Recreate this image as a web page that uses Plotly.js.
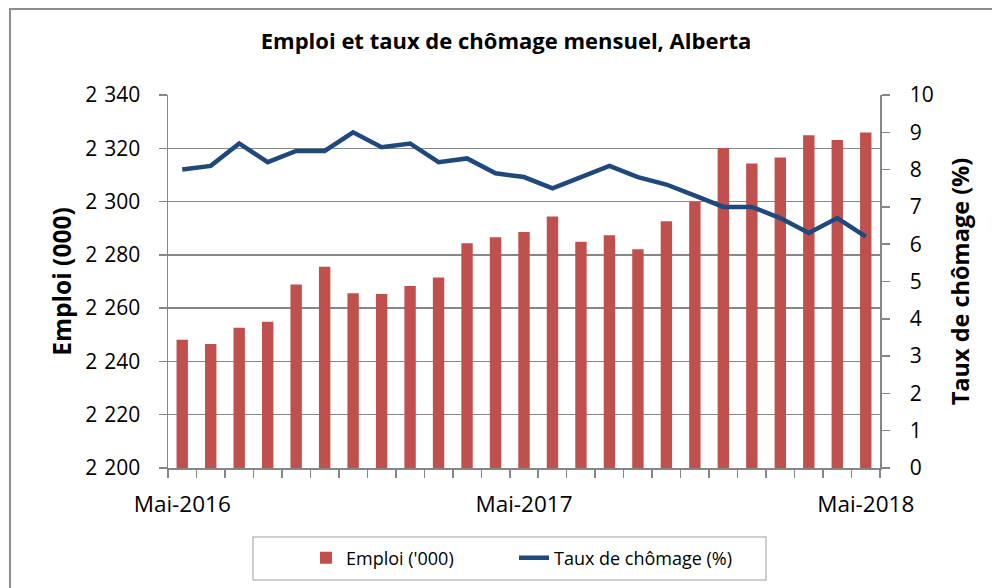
<!DOCTYPE html>
<html>
<head>
<meta charset="utf-8">
<script src="https://cdn.plot.ly/plotly-3.0.1.min.js"></script>
<style>
html,body{margin:0;padding:0;background:#fff;}
#chart{width:992px;height:588px;}
</style>
</head>
<body>
<div id="chart"></div>
<script>
const months = ["Mai-2016","Juin-2016","Juil-2016","Août-2016","Sept-2016","Oct-2016","Nov-2016","Déc-2016",
  "Janv-2017","Févr-2017","Mars-2017","Avr-2017","Mai-2017","Juin-2017","Juil-2017","Août-2017","Sept-2017",
  "Oct-2017","Nov-2017","Déc-2017","Janv-2018","Févr-2018","Mars-2018","Avr-2018","Mai-2018"];
const shownLabels = ["Mai-2016","Mai-2017","Mai-2018"];
const emploi = [2248.1,2246.5,2252.6,2254.9,2268.9,2275.5,2265.6,2265.3,2268.3,2271.5,2284.4,2286.6,
  2288.6,2294.4,2284.9,2287.4,2282.1,2292.6,2299.8,2320.1,2314.3,2316.5,2324.9,2323.1,2325.9];
const chomage = [8.0,8.1,8.7,8.2,8.5,8.5,9.0,8.6,8.7,8.2,8.3,7.9,7.8,7.5,7.8,8.1,7.8,7.6,7.3,7.0,7.0,6.7,6.3,6.7,6.2];

const FONT = "'Open Sans', 'Noto Sans', sans-serif";
const GRAY = "#868686";

const traces = [
  {type:"bar", x:months, y:emploi, name:"Emploi ('000)", marker:{color:"#C0504D"}, yaxis:"y", legend:"legend"},
  {type:"scatter", mode:"lines", x:months, y:chomage, name:"Taux de chômage (%)", line:{color:"#1F497D", width:4.5}, yaxis:"y2", legend:"legend2"}
];

// pixel helpers for paper coords (plot area 168..880 x, 95..468 y)
const L=168,R=880,T=95,B=468;
const px = v => (v-L)/(R-L);
const py = v => (B-v)/(B-T);

const legendBase = {orientation:"h", xanchor:"left", y:py(558), yanchor:"middle",
  borderwidth:0, font:{family:FONT, size:18}, bgcolor:"rgba(0,0,0,0)"};

const layout = {
  width:992, height:588,
  margin:{l:L, r:992-R, t:T, b:588-B},
  paper_bgcolor:"#fff", plot_bgcolor:"#fff",
  separators:",\u2004",
  font:{family:FONT, color:"#000", size:21},
  title:{text:"<b>Emploi et taux de chômage mensuel, Alberta</b>", font:{family:FONT, size:22, color:"#000"},
    xref:"container", yref:"container", x:506/992, xanchor:"center", y:1-41/588, yanchor:"middle"},
  bargap:0.6,
  showlegend:true,
  legend:Object.assign({}, legendBase, {x:px(306)}),
  legend2:Object.assign({}, legendBase, {x:px(514)}),
  xaxis:{type:"category", tickmode:"array", tickvals:months,
    ticktext:months.map(m => shownLabels.includes(m) ? m : ""),
    tickson:"boundaries", ticks:"outside", ticklen:8, tickwidth:1.5, tickcolor:GRAY,
    showline:true, linecolor:GRAY, linewidth:1.5, showgrid:false, zeroline:false,
    tickfont:{family:FONT, size:22.5}, tickangle:0, ticklabelstandoff:15, range:[-0.5, months.length-0.5]},
  yaxis:{range:[2200,2340], dtick:20, tick0:2200, tickformat:",d", ticks:"outside", ticklen:8, tickwidth:1.5, tickcolor:GRAY,
    showline:true, linecolor:GRAY, linewidth:1.5, showgrid:true, gridcolor:GRAY, gridwidth:1.5, zeroline:false,
    tickfont:{family:FONT, size:21}, ticklabelstandoff:14,
    title:{text:"<b>Emploi (000)</b>", font:{family:FONT, size:24.5}, standoff:6}},
  yaxis2:{range:[0,10], dtick:1, tick0:0, overlaying:"y", side:"right", ticks:"outside", ticklen:8, tickwidth:1.5, tickcolor:GRAY,
    showline:true, linecolor:GRAY, linewidth:1.5, showgrid:false, zeroline:false,
    tickfont:{family:FONT, size:21}, ticklabelstandoff:16,
    title:{text:"<b>Taux de chômage (%)</b>", font:{family:FONT, size:23.5}, standoff:20}},
  shapes:[
    {type:"rect", xref:"paper", yref:"paper", x0:px(10), x1:px(1000), y0:py(600), y1:py(9),
      line:{color:"#8C8C8C", width:2}, fillcolor:"rgba(0,0,0,0)", layer:"below"},
    {type:"rect", xref:"paper", yref:"paper", x0:px(253), x1:px(766), y0:py(580), y1:py(537),
      line:{color:"#BFBFBF", width:1.5}, fillcolor:"rgba(0,0,0,0)", layer:"below"}
  ]
};

Plotly.newPlot("chart", traces, layout, {displayModeBar:false, staticPlot:true});
</script>
</body>
</html>
